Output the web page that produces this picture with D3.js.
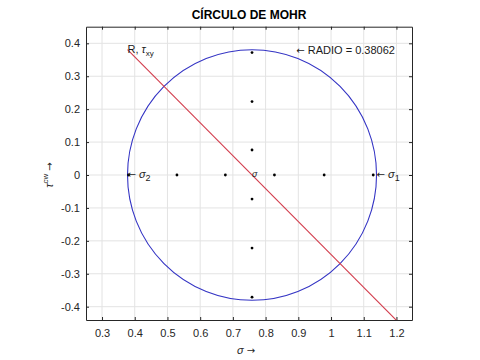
<!DOCTYPE html>
<html><head><meta charset="utf-8">
<script src="https://cdn.jsdelivr.net/npm/d3@7"></script>
<style>
html,body{margin:0;padding:0;background:#fff;}
text{font-family:"Liberation Sans",Arial,Helvetica,sans-serif;}
.arr{font-family:"DejaVu Sans",sans-serif;}
</style></head>
<body><svg id="c" width="480" height="360"></svg>
<script>
// ---- data ----
const titleText = "CÍRCULO DE MOHR";
const center = 0.7585;
const radius = 0.38062;
const xTicks = [0.3,0.4,0.5,0.6,0.7,0.8,0.9,1.0,1.1,1.2];
const yTicks = [-0.4,-0.3,-0.2,-0.1,0,0.1,0.2,0.3,0.4];
const xDomain = [0.251, 1.2475];
const yDomain = [-0.4404, 0.4505];
const sigmaDots = [0.381, 0.529, 0.677, 0.827, 0.979, 1.129];
const tauDots = [0.372, 0.223, 0.076, -0.073, -0.222, -0.371];
const lineSigma = [0.3779, 1.30];
const lineTau = [0.38062, -0.5415];
const sigma1 = 1.1391, sigma2 = 0.3779;
const radioLabelX = 0.894;

// ---- layout ----
const L = 86, R = 412, T = 26.7, B = 320;
const svg = d3.select("#c");
const x = d3.scaleLinear().domain(xDomain).range([L, R]);
const y = d3.scaleLinear().domain(yDomain).range([B, T]);
const fmt = d => String(+d.toFixed(2));
const axisCol = "#262626";

// grid
svg.append("g").selectAll("line").data(xTicks).join("line")
  .attr("x1", d => x(d)).attr("x2", d => x(d)).attr("y1", T).attr("y2", B)
  .attr("stroke", "#e3e3e3").attr("stroke-width", 1);
svg.append("g").selectAll("line").data(yTicks).join("line")
  .attr("y1", d => y(d)).attr("y2", d => y(d)).attr("x1", L).attr("x2", R)
  .attr("stroke", "#e3e3e3").attr("stroke-width", 1);

// axes
const ax = svg.append("g").attr("transform", `translate(0,${B})`)
  .call(d3.axisBottom(x).tickValues(xTicks).tickFormat(fmt).tickSizeInner(-3).tickSizeOuter(0).tickPadding(9));
const axT = svg.append("g").attr("transform", `translate(0,${T})`)
  .call(d3.axisTop(x).tickValues(xTicks).tickFormat("").tickSizeInner(-3).tickSizeOuter(0));
const ay = svg.append("g").attr("transform", `translate(${L},0)`)
  .call(d3.axisLeft(y).tickValues(yTicks).tickFormat(fmt).tickSizeInner(-3).tickSizeOuter(0).tickPadding(6));
const ayR = svg.append("g").attr("transform", `translate(${R},0)`)
  .call(d3.axisRight(y).tickValues(yTicks).tickFormat("").tickSizeInner(-3).tickSizeOuter(0));
[ax, axT, ay, ayR].forEach(g => {
  g.select(".domain").attr("stroke", axisCol).attr("stroke-width", 1);
  g.selectAll(".tick line").attr("stroke", axisCol);
  g.selectAll("text").attr("fill", axisCol).attr("font-size", 11)
   .attr("font-family", "'Liberation Sans', Arial, sans-serif");
});

// clip
svg.append("clipPath").attr("id", "clip").append("rect")
  .attr("x", L).attr("y", T).attr("width", R - L).attr("height", B - T);
const plot = svg.append("g").attr("clip-path", "url(#clip)");

// circle
plot.append("ellipse")
  .attr("cx", x(center)).attr("cy", y(0))
  .attr("rx", x(center + radius) - x(center))
  .attr("ry", y(0) - y(radius))
  .attr("fill", "none").attr("stroke", "#3434c4").attr("stroke-width", 1.1);

// red line
plot.append("path")
  .datum(lineSigma.map((s, i) => [s, lineTau[i]]))
  .attr("d", d3.line().x(d => x(d[0])).y(d => y(d[1])))
  .attr("fill", "none").attr("stroke", "#d23c4c").attr("stroke-width", 1.1);

// dots
plot.append("g").selectAll("circle").data(sigmaDots).join("circle")
  .attr("cx", d => x(d)).attr("cy", y(0)).attr("r", 1.4).attr("fill", "#000");
plot.append("g").selectAll("circle").data(tauDots).join("circle")
  .attr("cx", x(center)).attr("cy", d => y(d)).attr("r", 1.4).attr("fill", "#000");

// labels in plot
const txt = (px, py, size) => svg.append("text").attr("x", px).attr("y", py)
  .attr("font-size", size).attr("fill", "#1a1a1a").attr("dominant-baseline", "middle");

const tR = txt(x(sigma2), y(radius), 11);
tR.append("tspan").text("R, ");
tR.append("tspan").attr("font-style", "italic").text("τ");
tR.append("tspan").attr("font-size", 8).attr("dy", 4).text("xy");

const tRad = txt(x(radioLabelX), y(radius) + 1, 11);
tRad.append("tspan").attr("class", "arr").attr("font-size", 10).text("←");
tRad.append("tspan").text(" RADIO = 0.38062");

const t2 = txt(x(sigma2), y(0), 11);
t2.append("tspan").attr("class", "arr").attr("font-size", 10).text("←");
t2.append("tspan").text(" ");
t2.append("tspan").attr("font-style", "italic").text("σ");
t2.append("tspan").attr("font-size", 9).attr("dy", 4).text("2");

const t1 = txt(x(sigma1), y(0), 11);
t1.append("tspan").attr("class", "arr").attr("font-size", 10).text("←");
t1.append("tspan").text(" ");
t1.append("tspan").attr("font-style", "italic").text("σ");
t1.append("tspan").attr("font-size", 9).attr("dy", 4).text("1");

txt(x(center), y(0), 9).attr("font-style", "italic").text("σ");

// title
svg.append("text").attr("x", (L + R) / 2).attr("y", 19).attr("text-anchor", "middle")
  .attr("font-size", 12).attr("font-weight", "bold").attr("fill", "#000").text(titleText);

// x label
const xl = svg.append("text").attr("x", 246).attr("y", 354).attr("text-anchor", "middle")
  .attr("font-size", 11).attr("fill", axisCol);
xl.append("tspan").attr("font-style", "italic").text("σ");
xl.append("tspan").text(" ");
xl.append("tspan").attr("class", "arr").attr("font-size", 10).text("→");

// y label
const yl = svg.append("text").attr("transform", "translate(53,175) rotate(-90)")
  .attr("text-anchor", "middle").attr("font-size", 11).attr("fill", axisCol);
yl.append("tspan").attr("font-style", "italic").text("τ");
yl.append("tspan").attr("font-size", 8).attr("dy", -5).text("cw");
yl.append("tspan").attr("dy", 5).text(" ");
yl.append("tspan").attr("class", "arr").attr("font-size", 10).text("→");
</script></body></html>
